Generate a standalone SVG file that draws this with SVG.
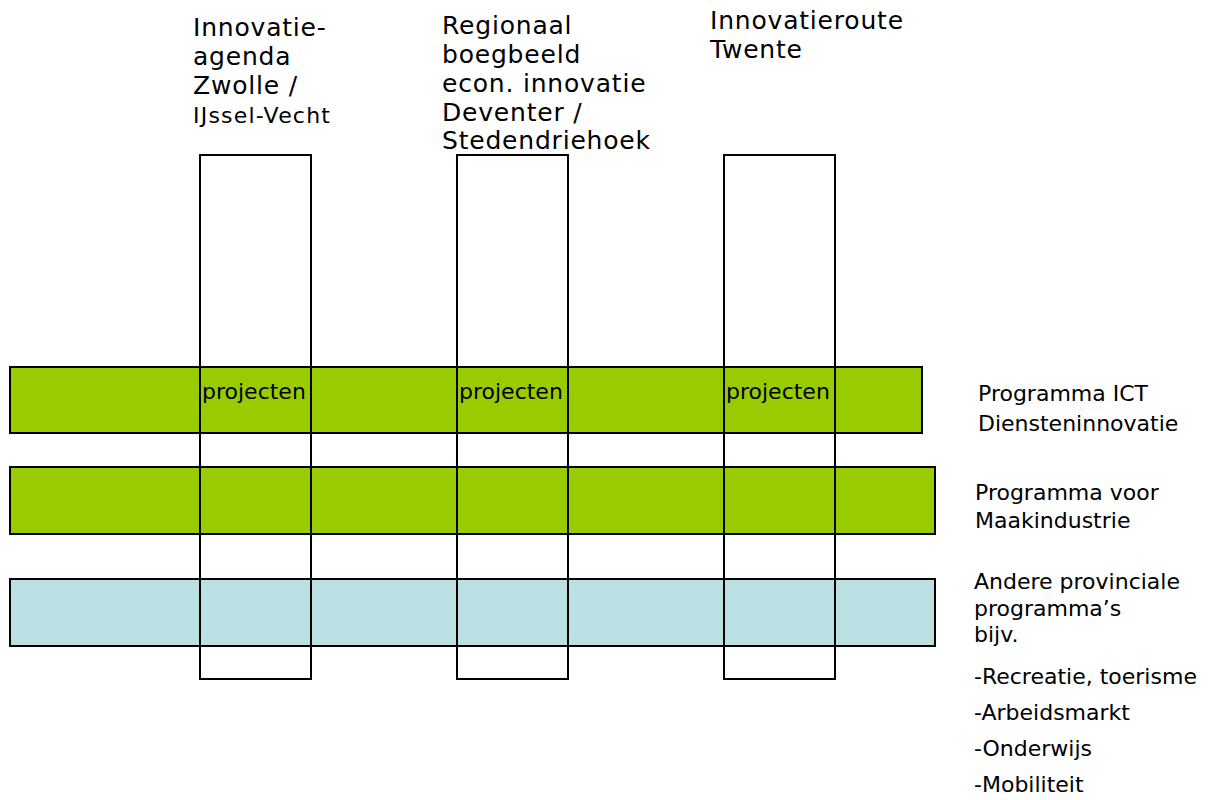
<svg xmlns="http://www.w3.org/2000/svg" width="1227" height="800" viewBox="0 0 1227 800">
<style>
.bg{fill:#ffffff}
.green{fill:#99CC00;stroke:#000;stroke-width:2}
.blue{fill:#BBE0E3;stroke:#000;stroke-width:2}
.col{fill:none;stroke:#000;stroke-width:2}
text{font-family:"DejaVu Sans","Verdana",sans-serif;fill:#000}
.t{font-size:25px;letter-spacing:0.8px}
.s{font-size:22px;letter-spacing:1.2px}
.l{font-size:22px}
.p{font-size:22px}
</style>
<rect class="bg" x="0" y="0" width="1227" height="800"/>
<g id="bar-ict"><rect class="green" x="10" y="367" width="912" height="66"/></g>
<g id="bar-maak"><rect class="green" x="10" y="467" width="925" height="67"/></g>
<g id="bar-andere"><rect class="blue" x="10" y="579" width="925" height="67"/></g>
<g id="col-zwolle">
<rect class="col" x="200" y="155" width="111" height="524"/>
<text class="t" x="193" y="36">Innovatie-</text>
<text class="t" x="193" y="65">agenda</text>
<text class="t" x="193" y="94">Zwolle /</text>
<text class="s" x="193" y="123">IJssel-Vecht</text>
<text class="p" x="202" y="399">projecten</text>
</g>
<g id="col-deventer">
<rect class="col" x="457" y="155" width="111" height="524"/>
<text class="t" x="442" y="34">Regionaal</text>
<text class="t" x="442" y="63">boegbeeld</text>
<text class="t" x="442" y="92">econ. innovatie</text>
<text class="t" x="442" y="121">Deventer /</text>
<text class="t" x="442" y="149">Stedendriehoek</text>
<text class="p" x="459" y="399">projecten</text>
</g>
<g id="col-twente">
<rect class="col" x="724" y="155" width="111" height="524"/>
<text class="t" x="710" y="29">Innovatieroute</text>
<text class="t" x="710" y="58">Twente</text>
<text class="p" x="726" y="399">projecten</text>
</g>
<g id="label-ict">
<text class="l" x="978" y="401">Programma ICT</text>
<text class="l" x="978" y="431">Diensteninnovatie</text>
</g>
<g id="label-maak">
<text class="l" x="975" y="500">Programma voor</text>
<text class="l" x="975" y="528">Maakindustrie</text>
</g>
<g id="label-andere">
<text class="l" x="974" y="589">Andere provinciale</text>
<text class="l" x="974" y="616">programma’s</text>
<text class="l" x="974" y="642">bijv.</text>
<text class="l" x="974" y="684">-Recreatie, toerisme</text>
<text class="l" x="974" y="720">-Arbeidsmarkt</text>
<text class="l" x="974" y="756">-Onderwijs</text>
<text class="l" x="974" y="792">-Mobiliteit</text>
</g>
<g id="connectors"></g>
</svg>
